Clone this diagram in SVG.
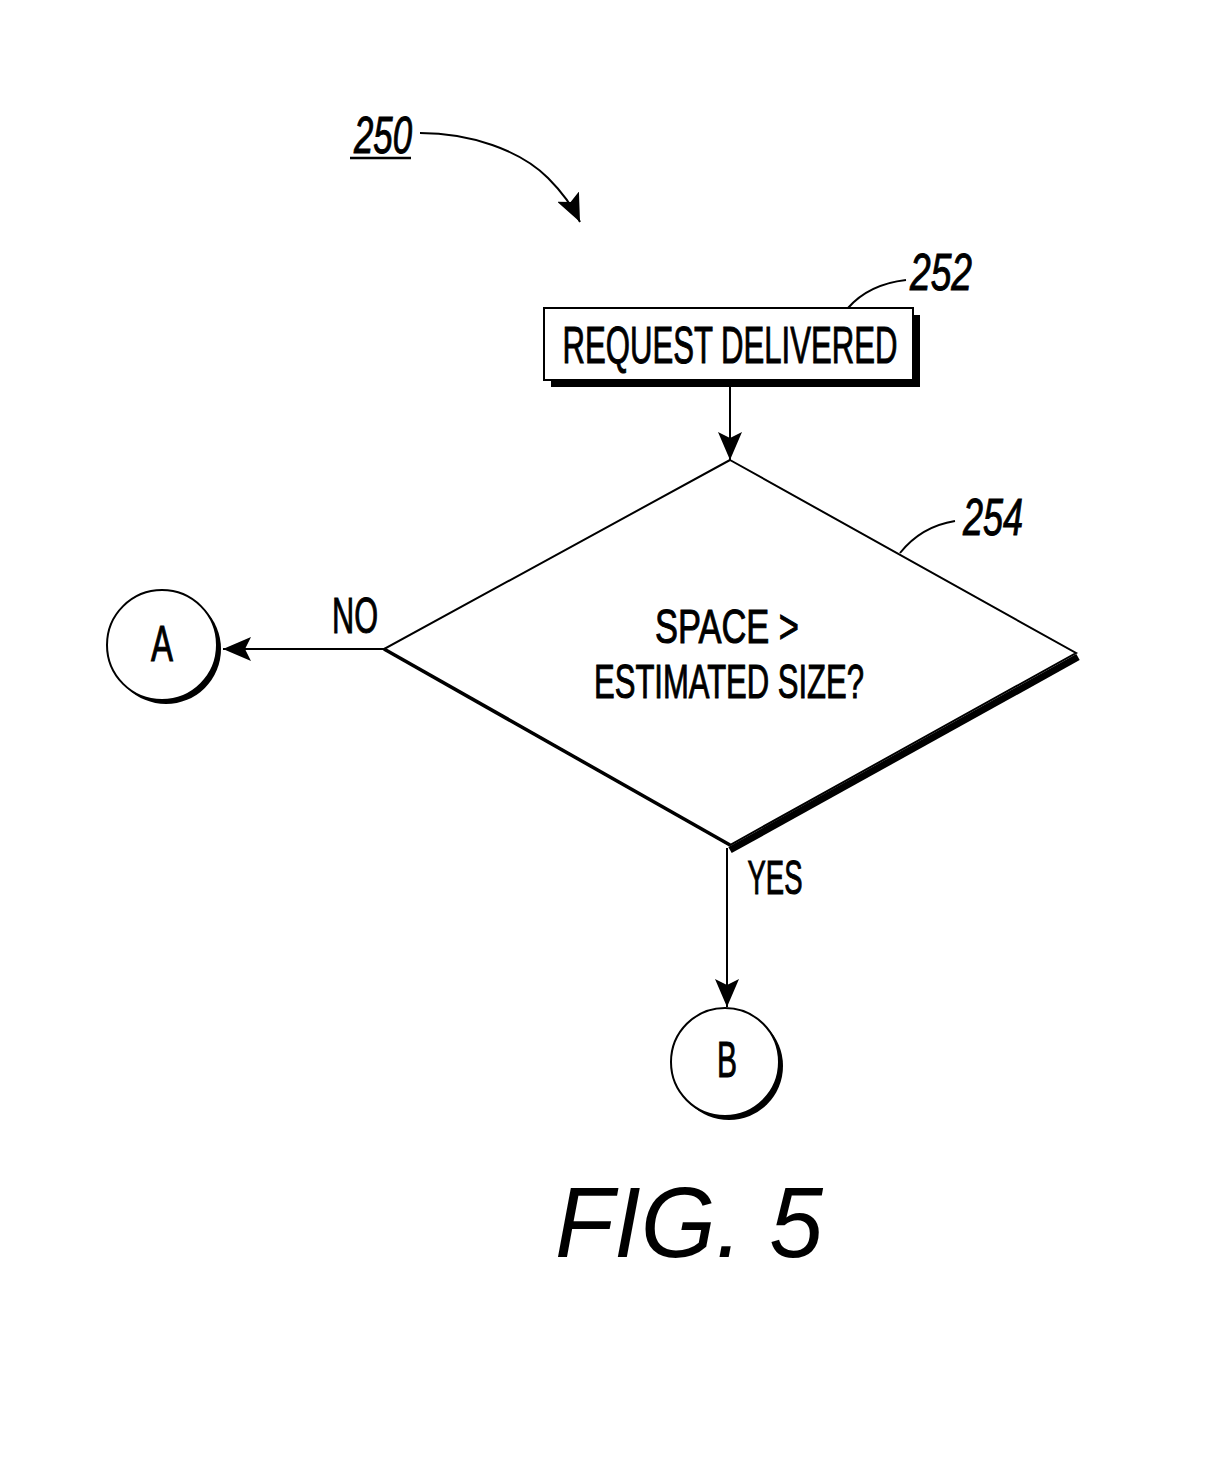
<svg xmlns="http://www.w3.org/2000/svg" width="1228" height="1465" viewBox="0 0 1228 1465">
<style>
.t{font-family:"Liberation Sans",Arial,sans-serif;fill:#000;stroke:#000;stroke-width:1;}
.n{font-family:"Liberation Sans",Arial,sans-serif;font-style:italic;fill:#000;stroke:#000;stroke-width:1;}
.c{font-family:"Liberation Sans",Arial,sans-serif;font-style:italic;fill:#000;}
.ln{stroke:#000;stroke-width:2;fill:none;}
</style>
<defs>
<marker id="ah" markerWidth="28" markerHeight="24" refX="28" refY="12" orient="auto" markerUnits="userSpaceOnUse">
<path d="M0,0 L28,12 L0,24 L6,12 Z" fill="#000"/>
</marker>
</defs>
<rect width="1228" height="1465" fill="#fff"/>

<g id="label-250">
<text class="n" x="383" y="153" font-size="52" text-anchor="middle" textLength="58" lengthAdjust="spacingAndGlyphs">250</text>
<line x1="350" y1="158" x2="411" y2="158" stroke="#000" stroke-width="2.5"/>
</g>

<g id="connectors">
<path class="ln" d="M420,133 C470,133 520,150 548,178 C560,190 572,205 580,222" marker-end="url(#ah)"/>
<path class="ln" d="M848,308 C862,292 880,283 906,280"/>
<path class="ln" d="M900,553 C912,538 930,525 955,521"/>
<line class="ln" x1="730" y1="387" x2="730" y2="460" marker-end="url(#ah)"/>
<line class="ln" x1="384" y1="649" x2="223" y2="649" marker-end="url(#ah)"/>
<line class="ln" x1="727" y1="848" x2="727" y2="1007" marker-end="url(#ah)"/>
</g>

<g id="node-252">
<rect x="551" y="315" width="369" height="72" fill="#000"/>
<rect x="544" y="308" width="369" height="72" fill="#fff" stroke="#000" stroke-width="2"/>
<text class="t" x="730" y="363" font-size="52" text-anchor="middle" textLength="335" lengthAdjust="spacingAndGlyphs">REQUEST DELIVERED</text>
<text class="n" x="941" y="290" font-size="52" text-anchor="middle" textLength="62" lengthAdjust="spacingAndGlyphs">252</text>
</g>

<g id="node-254">
<polygon points="730,460 1076,653 730,845 384,649" fill="#fff" stroke="#000" stroke-width="2"/>
<line x1="384" y1="649" x2="730" y2="845" stroke="#000" stroke-width="3.5"/>
<line x1="1078" y1="657" x2="730" y2="850" stroke="#000" stroke-width="7"/>
<text class="t" x="727" y="643" font-size="48" text-anchor="middle" textLength="144" lengthAdjust="spacingAndGlyphs">SPACE &gt;</text>
<text class="t" x="729" y="698" font-size="48" text-anchor="middle" textLength="270" lengthAdjust="spacingAndGlyphs">ESTIMATED SIZE?</text>
<text class="n" x="993" y="535" font-size="52" text-anchor="middle" textLength="60" lengthAdjust="spacingAndGlyphs">254</text>
</g>

<g id="label-no">
<text class="t" x="355" y="633" font-size="50" text-anchor="middle" textLength="46" lengthAdjust="spacingAndGlyphs">NO</text>
</g>
<g id="label-yes">
<text class="t" x="775" y="894" font-size="48" text-anchor="middle" textLength="55" lengthAdjust="spacingAndGlyphs">YES</text>
</g>

<g id="node-A">
<circle cx="166" cy="649" r="55" fill="#000"/>
<circle cx="162" cy="645" r="55" fill="#fff" stroke="#000" stroke-width="2"/>
<text class="t" x="162" y="661" font-size="50" text-anchor="middle" textLength="22" lengthAdjust="spacingAndGlyphs">A</text>
</g>

<g id="node-B">
<circle cx="729" cy="1066" r="54" fill="#000"/>
<circle cx="725" cy="1062" r="54" fill="#fff" stroke="#000" stroke-width="2"/>
<text class="t" x="727" y="1077" font-size="50" text-anchor="middle" textLength="20" lengthAdjust="spacingAndGlyphs">B</text>
</g>

<g id="caption">
<text class="c" x="689" y="1257" font-size="100" text-anchor="middle" textLength="268" lengthAdjust="spacingAndGlyphs">FIG. 5</text>
</g>
</svg>
